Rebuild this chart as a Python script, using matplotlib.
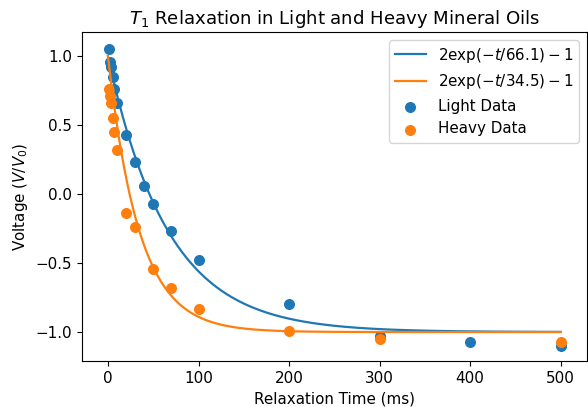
import numpy as np
import matplotlib
matplotlib.use('Agg')
import matplotlib.pyplot as plt

# measured data
light_t = [1, 2, 3, 5, 7, 10, 20, 30, 40, 50, 70, 100, 200, 300, 400, 500]
light_v = [1.05, 0.96, 0.92, 0.85, 0.76, 0.66, 0.43, 0.23, 0.06, -0.07, -0.27, -0.48, -0.80, -1.03, -1.07, -1.10]
heavy_t = [1, 2, 3, 5, 7, 10, 20, 30, 50, 70, 100, 200, 300, 500]
heavy_v = [0.76, 0.71, 0.66, 0.55, 0.45, 0.32, -0.14, -0.24, -0.54, -0.68, -0.83, -0.99, -1.05, -1.07]

# fitted time constants (ms)
tau_light = 66.1
tau_heavy = 34.5

t = np.linspace(0, 500, 500)

plt.rcParams['font.size'] = 10.9
plt.rcParams['lines.linewidth'] = 1.6

fig = plt.figure(figsize=(5.88, 4.07), dpi=100)
ax = fig.add_axes([0.139, 0.113, 0.859, 0.808])

ax.plot(t, 2 * np.exp(-t / tau_light) - 1, label=r'$2\exp(-t/%.1f)-1$' % tau_light)
ax.plot(t, 2 * np.exp(-t / tau_heavy) - 1, label=r'$2\exp(-t/%.1f)-1$' % tau_heavy)
ax.scatter(light_t, light_v, label='Light Data', s=48)
ax.scatter(heavy_t, heavy_v, label='Heavy Data', s=48)

ax.set_xlim(-29, 529)
ax.set_ylim(-1.21, 1.175)
ax.set_xlabel('Relaxation Time (ms)')
ax.set_ylabel('Voltage ($V/V_0$)')
ax.set_title('$T_1$ Relaxation in Light and Heavy Mineral Oils', fontsize=13.1)
ax.legend(loc='upper right')

plt.savefig('out.png')
